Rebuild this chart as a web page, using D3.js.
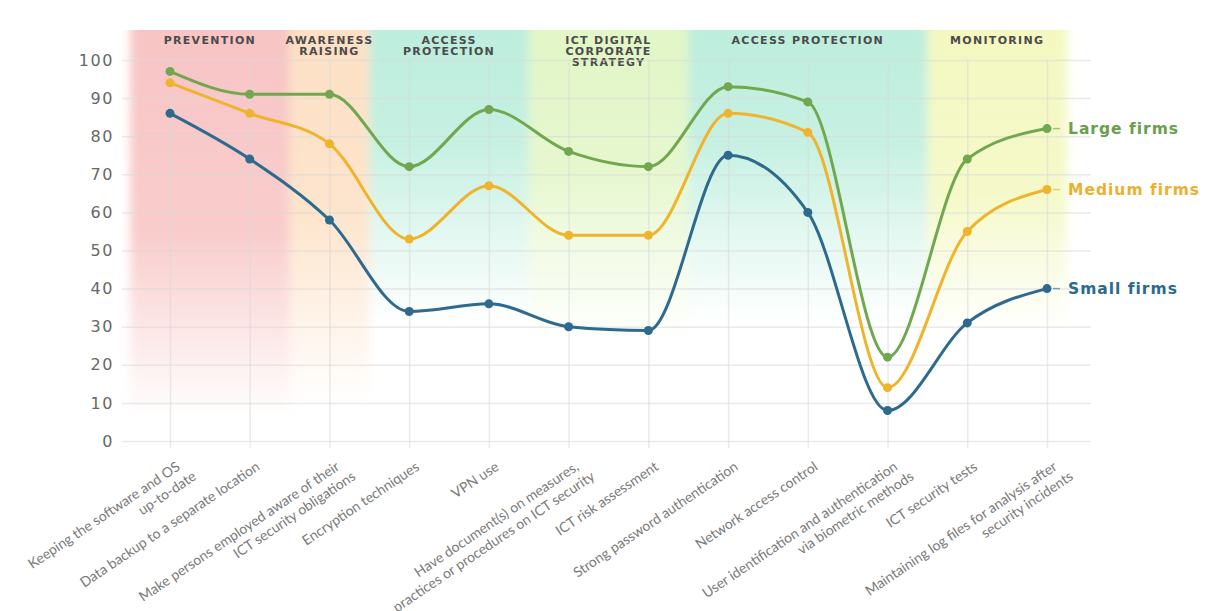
<!DOCTYPE html>
<html>
<head>
<meta charset="utf-8">
<script src="https://cdn.jsdelivr.net/npm/d3@7"></script>
<style>
  html, body { margin: 0; padding: 0; background: #fff; }
  svg { display: block; }
</style>
</head>
<body>
<svg id="chart" width="1206" height="611"></svg>
<script>
// Measures taken by firms (share of firms, %), by firm size
const categories = [
  "Keeping the software and OS\nup-to-date",
  "Data backup to a separate location",
  "Make persons employed aware of their\nICT security obligations",
  "Encryption techniques",
  "VPN use",
  "Have document(s) on measures,\npractices or procedures on ICT security",
  "ICT risk assessment",
  "Strong password authentication",
  "Network access control",
  "User identification and authentication\nvia biometric methods",
  "ICT security tests",
  "Maintaining log files for analysis after\nsecurity incidents"
];
const largeFirms  = [97, 91, 91, 72, 87, 76, 72, 93, 89, 22, 74, 82];
const mediumFirms = [94, 86, 78, 53, 67, 54, 54, 86, 81, 14, 55, 66];
const smallFirms  = [86, 74, 58, 34, 36, 30, 29, 75, 60,  8, 31, 40];
const seriesNames = ["Large firms", "Medium firms", "Small firms"];
const yTicks = [0, 10, 20, 30, 40, 50, 60, 70, 80, 90, 100];

// Thematic groups: title lines and first/last category index
const groupTitles = [
  ["PREVENTION"],
  ["AWARENESS", "RAISING"],
  ["ACCESS", "PROTECTION"],
  ["ICT DIGITAL", "CORPORATE", "STRATEGY"],
  ["ACCESS PROTECTION"],
  ["MONITORING"]
];
const groupFirst = [0, 2, 3, 5, 7, 10];
const groupLast  = [1, 2, 4, 6, 9, 11];

// Styling
const seriesColors = ["#71a84f", "#efb42c", "#2d6a8e"];
const labelColors  = ["#68a04c", "#eab12e", "#2c6a8d"];
const bandColors   = ["#f8c4c4", "#fde0c4", "#bdeedd", "#e2f6c6", "#bdeedd", "#f3f8c0"];
const bandSolidTo  = [0.50, 0.45, 0.28, 0.34, 0.28, 0.40];
const bandFadeTo   = [0.95, 0.92, 0.72, 0.76, 0.72, 0.74];

const series = [largeFirms, mediumFirms, smallFirms];

const svg = d3.select("#chart");
const defs = svg.append("defs");

const x = d3.scalePoint().domain(d3.range(categories.length)).range([170, 1047]);
const step = x.step();
const y = d3.scaleLinear().domain([0, 100]).range([441, 60]);

const gridLeft = 122, gridRight = 1091;
const bandTop = 30, bandBottom = 440;

function bandEdges(i) {
  const x0 = x(groupFirst[i]) - step / 2;
  const x1 = i === groupTitles.length - 1 ? x(groupLast[i]) + step / 4 : x(groupLast[i]) + step / 2;
  return [x0, x1];
}

// ---- Coloured thematic bands, fading downwards and blending sideways
defs.append("filter")
    .attr("id", "soft-edge")
    .attr("x", "-10%").attr("width", "120%")
  .append("feGaussianBlur")
    .attr("stdDeviation", "5 0");

const bandG = svg.append("g").attr("filter", "url(#soft-edge)");
groupTitles.forEach((t, i) => {
  const grad = defs.append("linearGradient")
    .attr("id", "band-" + i)
    .attr("x1", 0).attr("y1", 0).attr("x2", 0).attr("y2", 1);
  grad.append("stop").attr("offset", 0).attr("stop-color", bandColors[i]).attr("stop-opacity", 1);
  grad.append("stop").attr("offset", bandSolidTo[i]).attr("stop-color", bandColors[i]).attr("stop-opacity", 0.85);
  grad.append("stop").attr("offset", bandFadeTo[i]).attr("stop-color", bandColors[i]).attr("stop-opacity", 0);

  const [x0, x1] = bandEdges(i);
  bandG.append("rect")
    .attr("x", x0).attr("y", bandTop)
    .attr("width", x1 - x0).attr("height", bandBottom - bandTop)
    .attr("fill", "url(#band-" + i + ")");
});

// ---- Group titles
const titleG = svg.append("g")
  .attr("font-family", "'DejaVu Sans', sans-serif")
  .attr("font-weight", "bold")
  .attr("font-size", 11)
  .attr("letter-spacing", 1.3)
  .attr("fill", "#4b4b4b")
  .attr("text-anchor", "middle");
groupTitles.forEach((lines, i) => {
  const [x0, x1] = bandEdges(i);
  const cx = (x0 + x1) / 2;
  const t = titleG.append("text").attr("x", cx).attr("y", 44);
  lines.forEach((ln, k) => {
    t.append("tspan").attr("x", cx).attr("dy", k === 0 ? 0 : 11).text(ln);
  });
});

// ---- Y axis with horizontal gridlines
const yAxis = svg.append("g")
  .attr("transform", `translate(${gridLeft},0)`)
  .call(d3.axisLeft(y).tickValues(yTicks).tickSize(-(gridRight - gridLeft)).tickPadding(8));
yAxis.select(".domain").remove();
yAxis.selectAll(".tick line").attr("stroke", "#d9d9d9").attr("stroke-opacity", 0.55).attr("stroke-width", 1.5);
yAxis.selectAll(".tick text")
  .attr("font-family", "'DejaVu Sans', sans-serif")
  .attr("font-size", 16)
  .attr("letter-spacing", 1.6)
  .attr("fill", "#676767");

// ---- X axis with vertical gridlines
const xAxisY = 448;
const xAxis = svg.append("g")
  .attr("transform", `translate(0,${xAxisY})`)
  .call(d3.axisBottom(x).tickSize(-(xAxisY - y(100))).tickFormat(""));
xAxis.select(".domain").remove();
xAxis.selectAll(".tick line").attr("stroke", "#d9d9d9").attr("stroke-opacity", 0.55).attr("stroke-width", 1.5);

// Rotated, possibly two-line category labels
const xLabelG = svg.append("g")
  .attr("font-family", "Lato, 'Open Sans', sans-serif")
  .attr("font-size", 14)
  .attr("fill", "#7a7a7a")
  .attr("text-anchor", "end");
categories.forEach((c, i) => {
  const t = xLabelG.append("text")
    .attr("transform", `translate(${x(i) + 11},469) rotate(-34)`);
  c.split("\n").forEach((ln, k) => {
    t.append("tspan").attr("x", k === 0 ? 0 : 8).attr("y", k * 17).text(ln);
  });
});

// ---- Series lines, markers and end labels
const line = d3.line()
  .x((d, i) => x(i))
  .y(d => y(d))
  .curve(d3.curveMonotoneX);

const seriesG = svg.append("g");
series.forEach((vals, s) => {
  const g = seriesG.append("g");
  g.append("path")
    .attr("d", line(vals))
    .attr("fill", "none")
    .attr("stroke", seriesColors[s])
    .attr("stroke-width", 3)
    .attr("stroke-linejoin", "round")
    .attr("stroke-linecap", "round");
  g.selectAll("circle")
    .data(vals)
    .join("circle")
    .attr("cx", (d, i) => x(i))
    .attr("cy", d => y(d))
    .attr("r", 4.5)
    .attr("fill", seriesColors[s]);

  const last = vals.length - 1;
  const lx = x(last), ly = y(vals[last]);
  g.append("line")
    .attr("x1", lx + 6).attr("x2", lx + 13)
    .attr("y1", ly).attr("y2", ly)
    .attr("stroke", labelColors[s]).attr("stroke-opacity", 0.6).attr("stroke-width", 1.5);
  g.append("text")
    .attr("x", lx + 21).attr("y", ly)
    .attr("dy", "0.35em")
    .attr("font-family", "'DejaVu Sans', sans-serif")
    .attr("font-weight", "bold")
    .attr("font-size", 15.5)
    .attr("letter-spacing", 1)
    .attr("fill", labelColors[s])
    .text(seriesNames[s]);
});
</script>
</body>
</html>
